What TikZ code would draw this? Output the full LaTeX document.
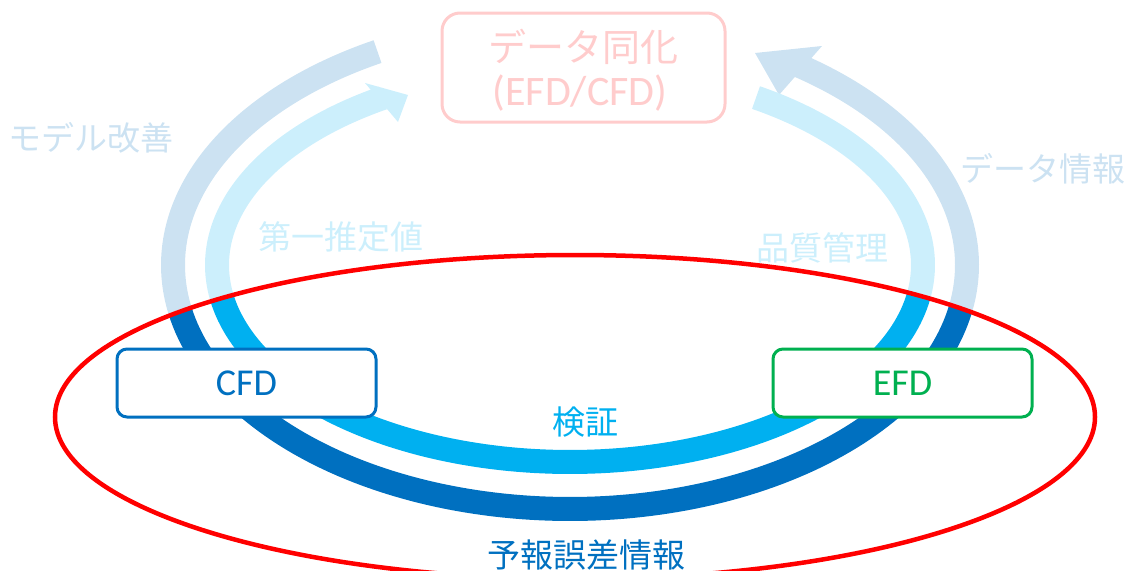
\documentclass[tikz,border=0pt]{standalone}
\usepackage{fontspec}
\setmainfont{Carlito}
\newfontfamily\jp{Noto Sans CJK JP}
\definecolor{dblue}{HTML}{0070C0}
\definecolor{cyanb}{HTML}{00B0F0}
\definecolor{lblue}{HTML}{CCE2F2}
\definecolor{lcyan}{HTML}{CCEFFC}
\definecolor{pinkc}{HTML}{FFCCCC}
\definecolor{egreen}{HTML}{00B050}
\begin{document}
\begin{tikzpicture}[x=1pt,y=-1pt,
  band/.style={line width=24pt},
  lbl/.style={font=\jp\fontsize{33}{40}\selectfont, inner sep=0pt},
  boxnode/.style={draw, line width=3pt, rounded corners=10pt, fill=white,
    minimum width=259pt, minimum height=68pt, inner sep=0pt,
    font=\fontsize{38}{44}\selectfont}]
\useasboundingbox (0,0) rectangle (1126,570);
\clip (0,0) rectangle (1126,570);
% ---- top (faded) bands ----
% outer top-left: model improvement
\draw[band, lblue] plot[domain=169:241, samples=70, variable=\t]
  ({570+397*cos(\t)},{265+244*sin(\t)});
% outer top-right: data information (arrow)
\draw[band, lblue] plot[domain=-56:10.5, samples=70, variable=\t]
  ({570+397*cos(\t)},{265+244*sin(\t)});
\coordinate (otip) at (755,53);
\coordinate (ob1) at (822,46);
\coordinate (ob2) at (779,95);
\fill[lblue] (otip) -- (ob1) -- (ob2) -- cycle;
% inner top-left: first guess (arrow)
\draw[band, lcyan] plot[domain=170.4:238, samples=70, variable=\t]
  ({570+353*cos(\t)},{265+197*sin(\t)});
\coordinate (itip) at (408,95);
\coordinate (ib1) at (365,83);
\coordinate (ib2) at (398,122);
\fill[lcyan] (itip) -- (ib1) -- (ib2) -- cycle;
% inner top-right: quality control
\draw[band, lcyan] plot[domain=-58.2:9.1, samples=70, variable=\t]
  ({570+353*cos(\t)},{265+197*sin(\t)});
% ---- bottom (strong) bands ----
\draw[band, dblue] plot[domain=10.5:169, samples=120, variable=\t]
  ({570+397*cos(\t)},{265+244*sin(\t)});
\draw[band, cyanb] plot[domain=9.1:170.4, samples=120, variable=\t]
  ({570+353*cos(\t)},{265+197*sin(\t)});
% ---- red ellipse ----
\draw[red, line width=4.5pt] (575,417) ellipse [x radius=520, y radius=162];
% ---- boxes ----
\node[boxnode, draw=pinkc, rounded corners=18pt, minimum width=283pt,
  minimum height=109pt] (da) at (583.5,67.5) {};
\node[inner sep=0pt, text=pinkc, font=\jp\fontsize{38}{44}\selectfont]
  (datxt) at (583,47) {データ同化};
\node[inner sep=0pt, text=pinkc, font=\fontsize{42}{48}\selectfont]
  (datxt2) at (580,93) {(EFD/CFD)};
\node[boxnode, draw=dblue, text=dblue] (cfd) at (246.5,383) {CFD};
\node[boxnode, draw=egreen, text=egreen] (efd) at (902.5,383) {EFD};
% ---- labels ----
\node[lbl, text=lblue] (l1) at (91,138) {モデル改善};
\node[lbl, text=lblue] (l2) at (1043,169) {データ情報};
\node[lbl, text=lcyan] (l3) at (341,237) {第一推定値};
\node[lbl, text=lcyan] (l4) at (822,248) {品質管理};
\node[lbl, text=cyanb] (l5) at (585,422) {検証};
\node[lbl, text=dblue] (l6) at (586,555) {予報誤差情報};
\end{tikzpicture}
\end{document}
